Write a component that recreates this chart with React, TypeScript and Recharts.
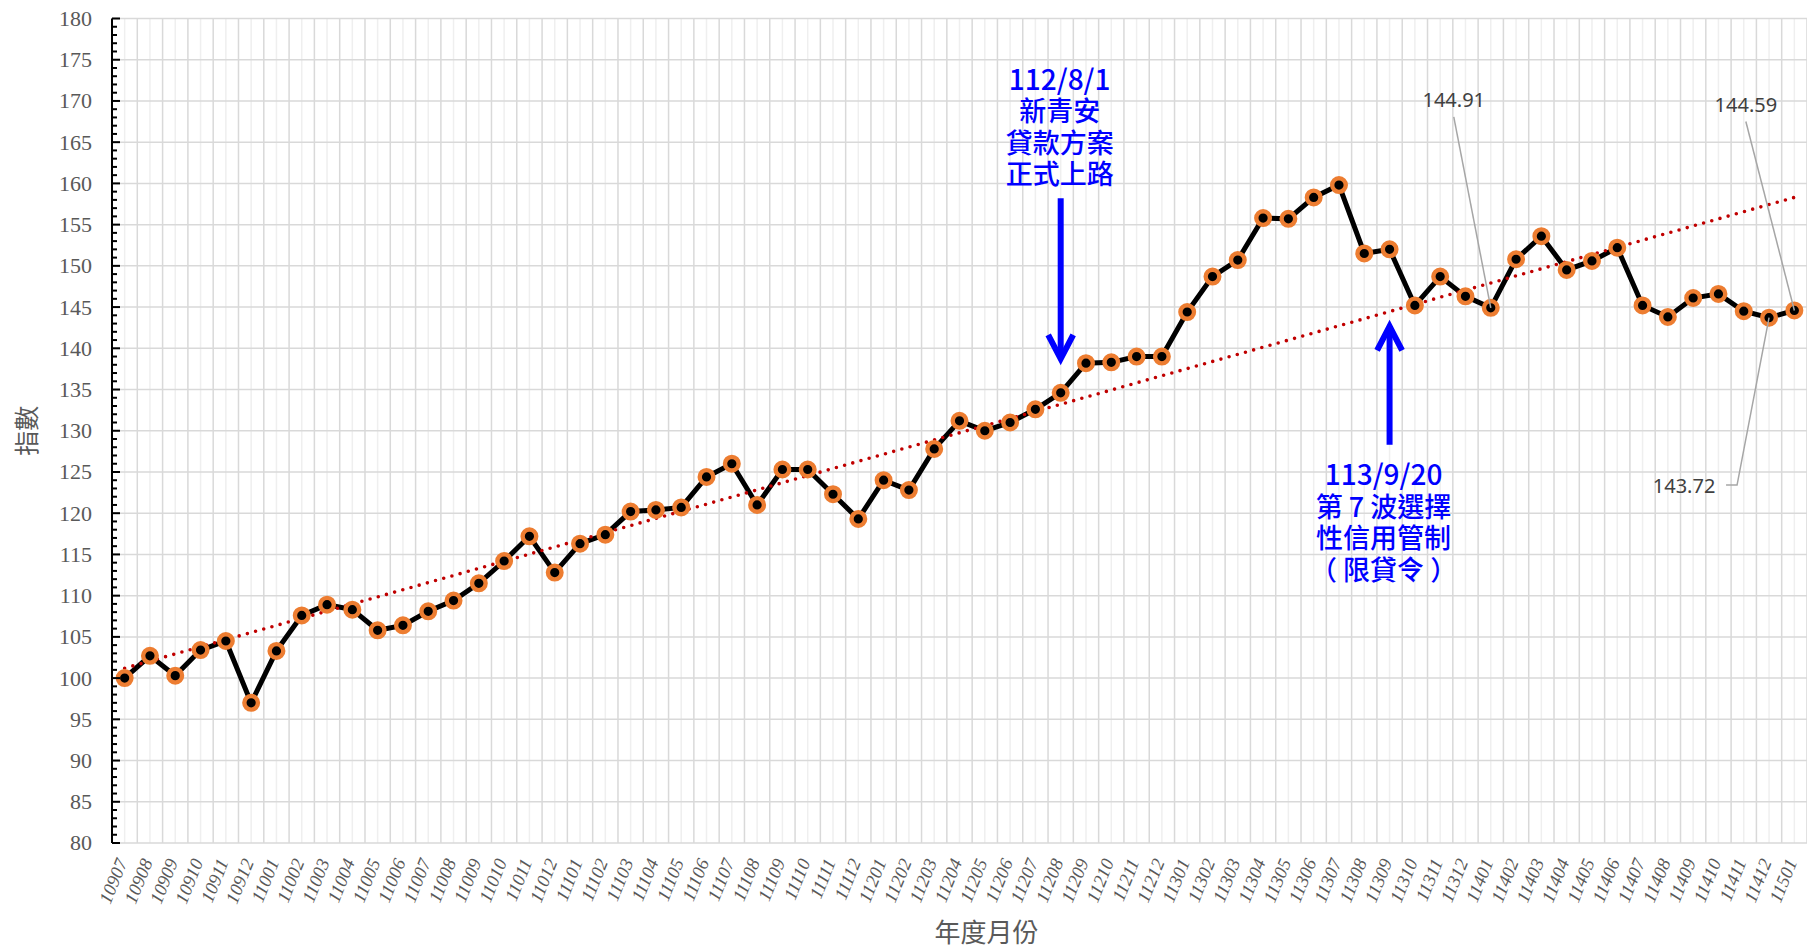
import React from 'react';
import { LineChart, Line, XAxis, YAxis, CartesianGrid, ReferenceLine, LabelList } from 'recharts';

// 年度月份 (民國年 + 月)
const months = [
  '10907', '10908', '10909', '10910', '10911', '10912',
  '11001', '11002', '11003', '11004', '11005', '11006', '11007', '11008', '11009', '11010', '11011', '11012',
  '11101', '11102', '11103', '11104', '11105', '11106', '11107', '11108', '11109', '11110', '11111', '11112',
  '11201', '11202', '11203', '11204', '11205', '11206', '11207', '11208', '11209', '11210', '11211', '11212',
  '11301', '11302', '11303', '11304', '11305', '11306', '11307', '11308', '11309', '11310', '11311', '11312',
  '11401', '11402', '11403', '11404', '11405', '11406', '11407', '11408', '11409', '11410', '11411', '11412',
  '11501',
];

// 指數
const indexValues = [
  100.0, 102.7, 100.3, 103.4, 104.5, 97.0,
  103.3, 107.6, 108.9, 108.3, 105.8, 106.4, 108.1, 109.4, 111.5, 114.2, 117.2, 112.8,
  116.3, 117.4, 120.2, 120.4, 120.7, 124.4, 126.0, 121.0, 125.3, 125.3, 122.3, 119.3,
  124.0, 122.8, 127.8, 131.2, 130.0, 131.0, 132.6, 134.6, 138.2, 138.3, 139.0, 139.0,
  144.4, 148.7, 150.7, 155.8, 155.7, 158.3, 159.8, 151.5, 152.0, 145.2, 148.7, 146.3,
  144.91, 150.8, 153.6, 149.5, 150.6, 152.2, 145.2, 143.8, 146.1, 146.6, 144.5, 143.72,
  144.59,
];

// linear trend line, read at first and last month
const trendMonths = ['10907', '11501'];
const trendValues = [101.2, 158.3];

const yMajorTicks = [80, 85, 90, 95, 100, 105, 110, 115, 120, 125, 130, 135, 140, 145, 150, 155, 160, 165, 170, 175, 180];

// events marked with arrows
const events = [
  { month: '11208', from: 158.2, to: 138.0, lines: ['112/8/1', '新青安', '貸款方案', '正式上路'] },
  { month: '11309', from: 128.3, to: 143.4, lines: ['113/9/20', '第 7 波選擇', '性信用管制', '（ 限貸令 ）'] },
];

const labeledMonths = ['11401', '11412', '11501'];

const rows = months.map((m, i) => ({ i, m, v: indexValues[i] }));
const trendRows = trendMonths.map((m, k) => ({ i: months.indexOf(m), t: trendValues[k] }));
const xCenters = months.map((_, i) => i);
const xBounds = [-0.5, ...months.map((_, i) => i + 0.5)];
const yAllTicks: number[] = [];
for (let v = yMajorTicks[0]; v <= yMajorTicks[yMajorTicks.length - 1]; v++) yAllTicks.push(v);

const GRAY = '#595959';
const SERIF = '"Liberation Serif", "DejaVu Serif", serif';
const CJK = '"Noto Sans CJK TC", "Noto Sans", sans-serif';

// callout placement (pixel offsets from the point)
const calloutPos: Record<string, { tx: number; ty: number; path: [number, number][] }> = {
  '11401': { tx: -37, ty: -201, path: [[-37, -191], [0, 0]] },
  '11412': { tx: -85, ty: 175.5, path: [[-43, 167.4], [-32, 167.4], [0, 0]] },
  '11501': { tx: -48.5, ty: -198.5, path: [[-48.5, -189], [0, 0]] },
};

const XTick = (props: any) => {
  const { x, y, payload } = props;
  const ax = x + 3;
  const ay = y + 19;
  return (
    <text x={ax} y={ay} transform={`rotate(-68, ${ax}, ${ay})`} textAnchor="end"
      fontFamily={SERIF} fontStyle="italic" fontSize={18.5} fill={GRAY}>
      {months[payload.value]}
    </text>
  );
};

const YTick = (props: any) => {
  const { x, y, payload } = props;
  const major = payload.value % 5 === 0;
  return (
    <g>
      <line x1={x} x2={x + (major ? 8 : 5)} y1={y} y2={y} stroke="#000" strokeWidth={2} />
      {major && (
        <text x={x - 20} y={y} dy="0.34em" textAnchor="end" fontFamily={SERIF} fontSize={22} fill={GRAY}>
          {payload.value}
        </text>
      )}
    </g>
  );
};

const Callout = (props: any) => {
  const { x, y, index, value } = props;
  const m = months[index];
  if (!labeledMonths.includes(m)) return null;
  const c = calloutPos[m];
  const d = c.path.map((p, k) => `${k ? 'L' : 'M'}${x + p[0]},${y + p[1]}`).join(' ');
  return (
    <g>
      <path d={d} fill="none" stroke="#A6A6A6" strokeWidth={1.5} />
      <text x={x + c.tx} y={y + c.ty} textAnchor="middle" fontFamily='"Noto Sans", sans-serif' fontSize={20} fill="#404040">
        {Number(value).toFixed(2)}
      </text>
    </g>
  );
};

const makeArrow = (lines: string[], down: boolean) => (p: any) => {
  const x = p.x1;
  const top = Math.min(p.y1, p.y2);
  const bot = Math.max(p.y1, p.y2);
  const tip = down ? bot - 6 : top + 6;
  const s = down ? -1 : 1;
  const head = `M${x - 12.5},${tip + s * 24} L${x},${tip} L${x + 12.5},${tip + s * 24}`;
  const shaft = down ? `M${x},${top} L${x},${tip - 4}` : `M${x},${bot} L${x},${tip + 4}`;
  const textX = down ? x - 1 : x - 6;
  const first = down ? top - 108 : bot + 40;
  const gaps = down ? [0, 31, 31.5, 31.5] : [0, 32, 31.5, 31.5];
  return (
    <g>
      <path d={shaft} stroke="#0000FF" strokeWidth={6} fill="none" />
      <path d={head} stroke="#0000FF" strokeWidth={6} fill="none" strokeLinejoin="miter" />
      <text x={textX} y={first} textAnchor="middle" fontFamily={CJK} fontSize={27} fontWeight={500} fill="#0000FF">
        {lines.map((t, k) => (
          <tspan key={k} x={textX} dy={gaps[k]} fontSize={k === 0 ? 28 : 27}>{t}</tspan>
        ))}
      </text>
    </g>
  );
};

const YTitle = (props: any) => {
  const vb = props.viewBox;
  const cx = vb.x - 27;
  const cy = vb.y + vb.height / 2;
  return (
    <text x={cx} y={cy} transform={`rotate(-90, ${cx}, ${cy})`} textAnchor="middle" dominantBaseline="central"
      fontFamily={CJK} fontSize={25} fill={GRAY}>指數</text>
  );
};

const XTitle = (props: any) => {
  const vb = props.viewBox;
  return (
    <text x={vb.x + vb.width / 2 + 27} y={942} textAnchor="middle"
      fontFamily={CJK} fontSize={26} fill={GRAY}>年度月份</text>
  );
};

export default function App() {
  return (
    <div style={{ position: 'absolute', left: 0, top: 0, width: 1807, height: 949, background: '#fff' }}>
      <LineChart width={1807} height={949} data={rows} margin={{ top: 18.5, right: 0, bottom: 36, left: 52 }}>
        <CartesianGrid horizontal={false} verticalValues={xCenters} stroke="#EFEFEF" strokeWidth={1.5} />
        <CartesianGrid horizontalValues={yMajorTicks} verticalValues={xBounds} stroke="#D9D9D9" strokeWidth={1.5} />
        <XAxis type="number" dataKey="i" domain={[-0.5, months.length - 0.5]} ticks={xCenters} interval={0}
          axisLine={false} tickLine={false} tickSize={0} tickMargin={0} height={70} tick={XTick} label={XTitle} />
        <YAxis type="number" domain={[yMajorTicks[0], yMajorTicks[yMajorTicks.length - 1]]} ticks={yAllTicks}
          interval={0} width={60} axisLine={{ stroke: '#000', strokeWidth: 2 }} tickLine={false} tickSize={0}
          tickMargin={0} tick={YTick} label={YTitle} />
        {events.map((e, k) => (
          <ReferenceLine key={k}
            segment={[{ x: months.indexOf(e.month), y: e.from }, { x: months.indexOf(e.month), y: e.to }]}
            shape={makeArrow(e.lines, e.to < e.from)} />
        ))}
        <Line dataKey="v" stroke="#000" strokeWidth={5} isAnimationActive={false}
          dot={{ r: 6.8, fill: '#000', stroke: '#ED7D31', strokeWidth: 4.4 }} activeDot={false}>
          <LabelList dataKey="v" content={Callout} />
        </Line>
        <Line data={trendRows} dataKey="t" stroke="#C00000" strokeWidth={3.6} strokeDasharray="0 8.5"
          strokeLinecap="round" dot={false} activeDot={false} isAnimationActive={false} />
      </LineChart>
    </div>
  );
}
